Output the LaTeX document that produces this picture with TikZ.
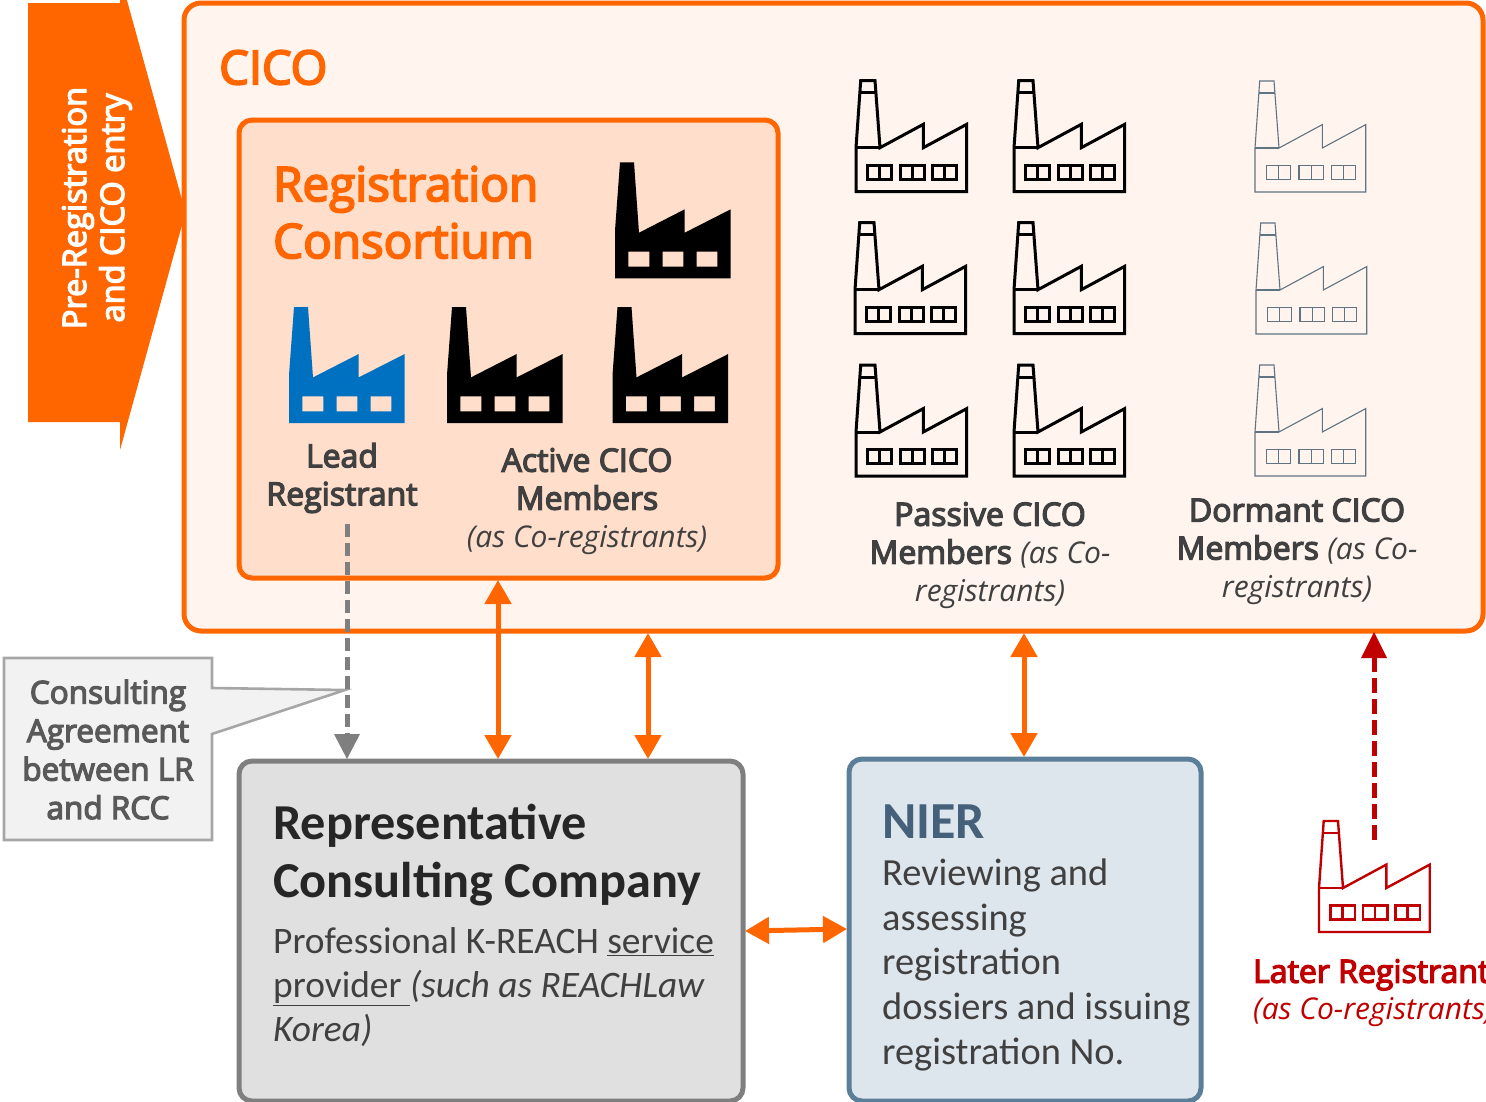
\documentclass[tikz,border=0pt]{standalone}
\usepackage{fontspec}
\setmainfont{Open Sans}
\newfontfamily\calfont{Carlito}
\newfontfamily\semifont[FakeBold=4]{Open Sans}
\usetikzlibrary{arrows.meta}
\definecolor{orng}{HTML}{FF6600}
\definecolor{cicofill}{HTML}{FFF4EE}
\definecolor{consfill}{HTML}{FFDFCC}
\definecolor{rccfill}{HTML}{E0E0E0}
\definecolor{rccline}{HTML}{7F7F7F}
\definecolor{nierfill}{HTML}{DEE6ED}
\definecolor{nierline}{HTML}{5B7F98}
\definecolor{nierdark}{HTML}{44607A}
\definecolor{dormline}{HTML}{5F7480}
\definecolor{lblgray}{HTML}{404040}
\definecolor{callgray}{HTML}{595959}
\definecolor{callfill}{HTML}{F2F2F2}
\definecolor{callline}{HTML}{A6A6A6}
\definecolor{laterred}{HTML}{C00000}
\definecolor{leadblue}{HTML}{0070C0}
\newcommand{\fs}[2]{\fontsize{#1}{#2}\selectfont}
\newcommand{\lb}{\semifont\fs{32}{38}}
\newcommand{\li}{\rmfamily\fs{30}{38}\itshape}
\newcommand{\calbody}{\calfont\fs{37.4}{44}}
\tikzset{
  x=1pt,y=-1pt,
  boxshape/.style={rounded corners=#1,line join=round},
  lbl/.style={inner sep=0pt,align=center,text=lblgray},
  lefttxt/.style={inner sep=0pt,align=left,anchor=north west},
  orangedbl/.style={draw=orng,line width=5,{Triangle[length=24,width=26]}-{Triangle[length=24,width=26]}},
  factoryline/.pic={
    \path[pic actions,fill=none,line join=miter] (0,111) -- (0,67) -- (4.7,0) -- (19,0) -- (24,67) -- (67.3,43.6) -- (67.3,67) -- (110.7,43.6) -- (110.7,111) -- cycle;
    \path[pic actions,fill=none] (0,67) -- (24,67);
    \path[pic actions,fill=none] (3.9,12) -- (19.9,12);
    \foreach \wx in {11.3,44,76.3}{
      \path[pic actions,fill=none] (\wx,84.3) rectangle ++(24.4,14.3);
      \path[pic actions,fill=none] (\wx+12.2,84.3) -- ++(0,14.3);
    }
  },
  factorysolid/.pic={
    \path[pic actions,even odd rule] (0,116) -- (0,68) -- (5,0) -- (19,0) -- (24,70.4) -- (69.7,47) -- (69.7,70.4) -- (115.7,47) -- (115.7,116) -- cycle
      (13.3,89.4) rectangle ++(21,15)
      (47.7,89.4) rectangle ++(20.6,15)
      (81.7,89.4) rectangle ++(20.6,15);
  }
}
\begin{document}
\begin{tikzpicture}
\useasboundingbox (0,0) rectangle (1486,1101);
\clip (0,0) rectangle (1486,1101);

% entry arrow
\fill[orng] (28,3) -- (120,3) -- (120,-25) -- (185.5,212.5) -- (120,450) -- (120,422) -- (28,422) -- cycle;
\node[inner sep=0pt,align=center,text=white,rotate=90,font=\semifont\fs{32.5}{38}] (entry) at (97,208) {Pre-Registration\\and CICO entry};

% main boxes
\draw[draw=orng,fill=cicofill,line width=5,boxshape=17] (184,3) rectangle (1483,631);
\coordinate (cicoA) at (648,633);
\coordinate (cicoB) at (1024,633);
\coordinate (cicoC) at (1374,632);
\draw[draw=orng,fill=consfill,line width=5,boxshape=13] (239,120) rectangle (778,578);
\coordinate (consA) at (498,580);
\coordinate (leadDown) at (347,524);
\draw[draw=rccline,fill=rccfill,line width=5,boxshape=13] (239,761) rectangle (743,1101);
\coordinate (rccA) at (347,759);
\coordinate (rccB) at (498,759);
\coordinate (rccC) at (648,759);
\coordinate (rccD) at (745,931);
\draw[draw=nierline,fill=nierfill,line width=5,boxshape=13] (849,759) rectangle (1201,1101);
\coordinate (nierA) at (1024,757);
\coordinate (nierB) at (847,929);

% titles
\node[lefttxt,text=orng,font=\semifont\fs{47}{57}] (cico) at (219,50) {CICO};
\node[lefttxt,text=orng,font=\semifont\fs{47.5}{57}] (regcons) at (273,166) {Registration\\Consortium};

% factories
\pic[fill=black] at (615,162.3) {factorysolid};
\pic[fill=leadblue] at (289,307) {factorysolid};
\pic[fill=black] at (447,307) {factorysolid};
\pic[fill=black] at (612.5,307) {factorysolid};
\foreach \fx/\fy in {856/80.7,1014/80.7,855/222.7,1014/222.7,856/365,1014/365}
  \pic[draw=black,line width=3] at (\fx,\fy) {factoryline};
\foreach \fx/\fy in {1255/81,1256/223,1255/365}
  \pic[draw=dormline,line width=1.1] at (\fx,\fy) {factoryline};
\pic[draw=laterred,line width=2.4] at (1319,821) {factoryline};

% labels
\node[lbl,font=\lb] (lead) at (342,478) {Lead\\Registrant};
\node[lbl,font=\lb] (active) at (587,501.5) {Active CICO\\Members\\\li (as Co-registrants)};
\node[lbl,font=\lb] (passive) at (990,555.5) {Passive CICO\\Members \li (as Co-\\\li registrants)};
\node[lbl,font=\lb] (dormant) at (1297,551.5) {Dormant CICO\\Members \li (as Co-\\\li registrants)};
\node[inner sep=0pt,align=left,anchor=north west,text=laterred,font=\lb] (later) at (1253,959) {Later Registrant\\[-1pt]\li (as Co-registrants)};

% callout
\draw[draw=callline,fill=callfill,line width=2.6,line join=miter] (4,658) -- (212,658) -- (212,688) -- (345,690) -- (212,734) -- (212,840) -- (4,840) -- cycle;
\node[inner sep=0pt,align=center,text=callgray,font=\semifont\fs{31.5}{38.5}] (calltext) at (108,749.5) {Consulting\\Agreement\\between LR\\and RCC};

% RCC text
\node[lefttxt,text=black!85,font=\calfont\fs{50.3}{58}\bfseries] (rcctitle) at (273,804) {Representative\\Consulting Company};
\node[lefttxt,text=lblgray,font=\calbody] (rccbody) at (273,927.5) {Professional K-REACH \underline{service}\\\underline{provider }\itshape (such as REACHLaw\\\itshape Korea)};

% NIER text
\node[lefttxt,text=nierdark,font=\calfont\fs{52}{58}\bfseries] (niertitle) at (882,805) {NIER};
\node[lefttxt,text=lblgray,font=\calfont\fs{38.4}{44.8}] (nierbody) at (882,858.5) {Reviewing and\\assessing\\registration\\dossiers and issuing\\registration No.};

% connectors
\draw[draw=rccline,line width=5,dash pattern=on 13 off 6] (leadDown) -- ([yshift=20]rccA);
\fill[rccline] (rccA) -- ++(-13,-25) -- ++(26,0) -- cycle;
\draw[orangedbl] (consA) -- (rccB);
\draw[orangedbl] (cicoA) -- (rccC);
\draw[orangedbl] (cicoB) -- (nierA);
\draw[orangedbl] (rccD) -- (nierB);
\coordinate (laterTop) at (1374,840);
\draw[draw=laterred,line width=5,dash pattern=on 15 off 6] (laterTop) -- ([yshift=-22]cicoC);
\fill[laterred] (cicoC) -- ++(-13,26) -- ++(26,0) -- cycle;
\end{tikzpicture}
\end{document}
